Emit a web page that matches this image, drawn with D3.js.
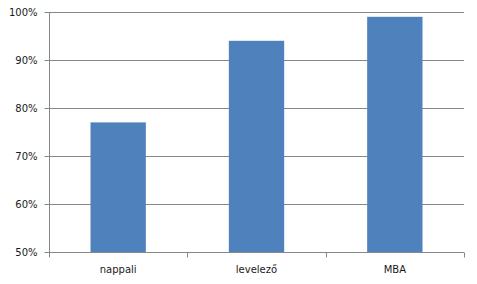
<!DOCTYPE html>
<html>
<head>
<meta charset="utf-8">
<script src="https://cdn.jsdelivr.net/npm/d3@7"></script>
<style>
  body { margin: 0; background: #fff; }
  text { font-family: "DejaVu Sans", Verdana, sans-serif; }
</style>
</head>
<body>
<svg id="chart" width="477" height="284"></svg>
<script>
// data
const categories = ["nappali", "levelező", "MBA"];
const values = [0.77, 0.94, 0.99];
const yTicks = [0.5, 0.6, 0.7, 0.8, 0.9, 1.0];

const svg = d3.select("#chart");
const margin = { left: 49, right: 13, top: 12, bottom: 32 };
const width = 477 - margin.left - margin.right;
const height = 284 - margin.top - margin.bottom;

const g = svg.append("g")
  .attr("transform", `translate(${margin.left},${margin.top})`);

const x = d3.scaleBand()
  .domain(categories)
  .range([0, width]);

const y = d3.scaleLinear()
  .domain([0.5, 1.0])
  .range([height, 0]);

const gridColor = "#878787";

// gridlines
g.selectAll(".grid")
  .data(yTicks.slice(1))
  .enter().append("line")
  .attr("class", "grid")
  .attr("x1", 0)
  .attr("x2", width)
  .attr("y1", d => Math.round(y(d)) + 0.5)
  .attr("y2", d => Math.round(y(d)) + 0.5)
  .attr("stroke", gridColor)
  .attr("stroke-width", 1);

// bars, Excel gap width 150%
const barW = x.bandwidth() / 2.5;
g.selectAll(".bar")
  .data(values)
  .enter().append("rect")
  .attr("class", "bar")
  .attr("x", (d, i) => x(categories[i]) + (x.bandwidth() - barW) / 2)
  .attr("y", d => y(d))
  .attr("width", barW)
  .attr("height", d => height - y(d))
  .attr("fill", "#4F81BD");

// y axis
const yAxis = g.append("g")
  .attr("transform", "translate(0.5,0)")
  .call(d3.axisLeft(y).tickValues(yTicks).tickFormat(d3.format(".0%")).tickSize(5).tickPadding(7));
yAxis.select(".domain").attr("stroke", gridColor).attr("d", `M0,${y(1.0)}V${height + 0.5}`);
yAxis.selectAll(".tick line").attr("stroke", gridColor);
yAxis.selectAll(".tick text").attr("fill", "#1a1a1a").attr("font-size", "10px");

// x axis
const xAxis = g.append("g")
  .attr("transform", `translate(0,${Math.round(height) + 0.5})`)
  .call(d3.axisBottom(x).tickSize(0).tickPadding(13));
xAxis.select(".domain").attr("stroke", gridColor).attr("d", `M0,0H${width}`);
xAxis.selectAll(".tick text").attr("fill", "#1a1a1a").attr("font-size", "10px");

// category boundary ticks
const bounds = categories.map(c => x(c)).concat([width]);
xAxis.selectAll(".btick")
  .data(bounds)
  .enter().append("line")
  .attr("class", "btick")
  .attr("x1", d => Math.round(d) + 0.5)
  .attr("x2", d => Math.round(d) + 0.5)
  .attr("y1", 0)
  .attr("y2", 5)
  .attr("stroke", gridColor);
</script>
</body>
</html>
